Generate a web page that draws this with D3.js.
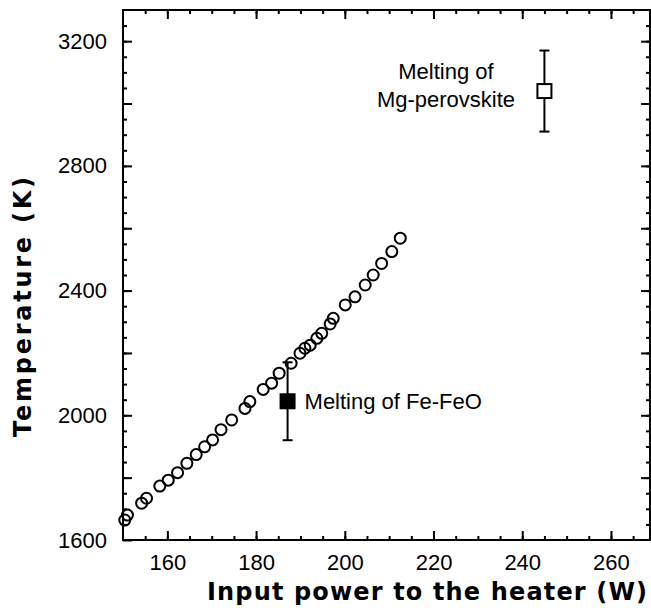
<!DOCTYPE html>
<html lang="en">
<head>
<meta charset="utf-8">
<style>
  body { margin: 0; background: #fff; }
  svg { display: block; }
  .tick text { font-family: "Liberation Sans", Arial, sans-serif; font-size: 22px; fill: #000; }
  .domain { display: none; }
  .tick line { stroke: #000; stroke-width: 2px; }
</style>
</head>
<body>
<svg width="651" height="610"></svg>
<script src="https://d3js.org/d3.v7.min.js"></script>
<script>
// heater power (W) vs temperature (K), open circles
var powerW = [150.4, 151.0, 154.2, 155.3, 158.3, 160.2, 162.3, 164.4, 166.5, 168.4,
              170.2, 172.1, 174.5, 177.5, 178.6, 181.6, 183.5, 185.2, 187.9, 189.9,
              191.0, 192.2, 193.7, 194.8, 196.7, 197.4, 200.1, 202.3, 204.6, 206.4,
              208.3, 210.6, 212.5];
var tempK  = [1664, 1680, 1718, 1734, 1773, 1792, 1816, 1846, 1874, 1899,
              1921, 1954, 1985, 2022, 2044, 2083, 2103, 2135, 2167, 2199,
              2215, 2225, 2247, 2263, 2293, 2311, 2354, 2380, 2418, 2450,
              2487, 2525, 2568];

// melting points with error bars
var meltNames = ["Fe-FeO", "Mg-perovskite"];
var meltPower = [187.1, 245.0];
var meltTemp  = [2045, 3040];
var meltErr   = [125, 130];

var xTicks = [160, 180, 200, 220, 240, 260];
var yTicks = [1600, 2000, 2400, 2800, 3200];

var svg = d3.select("svg");
var plotL = 123, plotR = 650, plotT = 10, plotB = 540;

var x = d3.scaleLinear().domain([150, 268.8]).range([plotL, plotR]);
var y = d3.scaleLinear().domain([1600, 3300]).range([plotB, plotT]);

var minorX = d3.range(155, 269, 5);
var majorX = d3.range(160, 269, 20);
var minorY = d3.range(1650, 3300, 50);
var majorY = d3.range(1800, 3300, 200);

// bottom axis, ticks inward
svg.append("g").attr("transform", "translate(0," + plotB + ")")
    .call(d3.axisBottom(x).tickValues(minorX).tickSize(-4).tickFormat(""));
svg.append("g").attr("transform", "translate(0," + plotB + ")")
    .call(d3.axisBottom(x).tickValues(majorX).tickSize(-9).tickPadding(14)
        .tickFormat(function (d) { return xTicks.indexOf(d) >= 0 ? d : ""; }));
// top axis
svg.append("g").attr("transform", "translate(0," + plotT + ")")
    .call(d3.axisTop(x).tickValues(minorX).tickSize(-4).tickFormat(""));
svg.append("g").attr("transform", "translate(0," + plotT + ")")
    .call(d3.axisTop(x).tickValues(majorX).tickSize(-9).tickFormat(""));
// left axis
svg.append("g").attr("transform", "translate(" + plotL + ",0)")
    .call(d3.axisLeft(y).tickValues(minorY).tickSize(-4).tickFormat(""));
svg.append("g").attr("transform", "translate(" + plotL + ",0)")
    .call(d3.axisLeft(y).tickValues(majorY.concat([1600])).tickSize(-9).tickPadding(16)
        .tickFormat(function (d) { return yTicks.indexOf(d) >= 0 ? d : ""; }));
// right axis
svg.append("g").attr("transform", "translate(" + plotR + ",0)")
    .call(d3.axisRight(y).tickValues(minorY).tickSize(-4).tickFormat(""));
svg.append("g").attr("transform", "translate(" + plotR + ",0)")
    .call(d3.axisRight(y).tickValues(majorY).tickSize(-9).tickFormat(""));

// frame
svg.append("rect")
    .attr("x", plotL).attr("y", plotT)
    .attr("width", plotR - plotL).attr("height", plotB - plotT)
    .attr("fill", "none").attr("stroke", "#000").attr("stroke-width", 2);

// axis titles
svg.append("text")
    .attr("x", 427).attr("y", 600)
    .attr("text-anchor", "middle")
    .attr("textLength", 440).attr("lengthAdjust", "spacing")
    .style("font-family", "'DejaVu Sans', Verdana, sans-serif")
    .style("font-weight", "bold").style("font-size", "24px")
    .text("Input power to the heater (W)");

svg.append("text")
    .attr("transform", "translate(31,307) rotate(-90)")
    .attr("text-anchor", "middle")
    .attr("textLength", 260).attr("lengthAdjust", "spacing")
    .style("font-family", "'DejaVu Sans', Verdana, sans-serif")
    .style("font-weight", "bold").style("font-size", "24px")
    .text("Temperature (K)");

// open circles
svg.append("g").selectAll("circle")
    .data(powerW.map(function (p, i) { return [p, tempK[i]]; }))
    .join("circle")
    .attr("cx", function (d) { return x(d[0]); })
    .attr("cy", function (d) { return y(d[1]); })
    .attr("r", 5.5)
    .attr("fill", "none").attr("stroke", "#000").attr("stroke-width", 2);

// melting points
var melt = meltNames.map(function (n, i) {
    return { name: n, p: meltPower[i], t: meltTemp[i], e: meltErr[i], filled: i === 0 };
});
var mg = svg.append("g").selectAll("g").data(melt).join("g");
mg.append("line")
    .attr("x1", function (d) { return x(d.p); }).attr("x2", function (d) { return x(d.p); })
    .attr("y1", function (d) { return y(d.t + d.e); }).attr("y2", function (d) { return y(d.t - d.e); })
    .attr("stroke", "#000").attr("stroke-width", 2);
[1, -1].forEach(function (s) {
    mg.append("line")
        .attr("x1", function (d) { return x(d.p) - 5; }).attr("x2", function (d) { return x(d.p) + 5; })
        .attr("y1", function (d) { return y(d.t + s * d.e); }).attr("y2", function (d) { return y(d.t + s * d.e); })
        .attr("stroke", "#000").attr("stroke-width", 2);
});
mg.append("rect")
    .attr("x", function (d) { return x(d.p) - 7; })
    .attr("y", function (d) { return y(d.t) - 7; })
    .attr("width", 14).attr("height", 14)
    .attr("fill", function (d) { return d.filled ? "#000" : "#fff"; })
    .attr("stroke", "#000").attr("stroke-width", 2);

var labFont = "'Liberation Sans', Arial, sans-serif";
svg.append("text")
    .attr("x", x(meltPower[0]) + 17).attr("y", y(meltTemp[0]) + 8)
    .style("font-family", labFont).style("font-size", "22px")
    .text("Melting of Fe-FeO");
svg.append("text")
    .attr("x", 446).attr("y", 79).attr("text-anchor", "middle")
    .style("font-family", labFont).style("font-size", "22px")
    .text("Melting of");
svg.append("text")
    .attr("x", 446).attr("y", 107).attr("text-anchor", "middle")
    .style("font-family", labFont).style("font-size", "22px")
    .text("Mg-perovskite");
</script>
</body>
</html>
